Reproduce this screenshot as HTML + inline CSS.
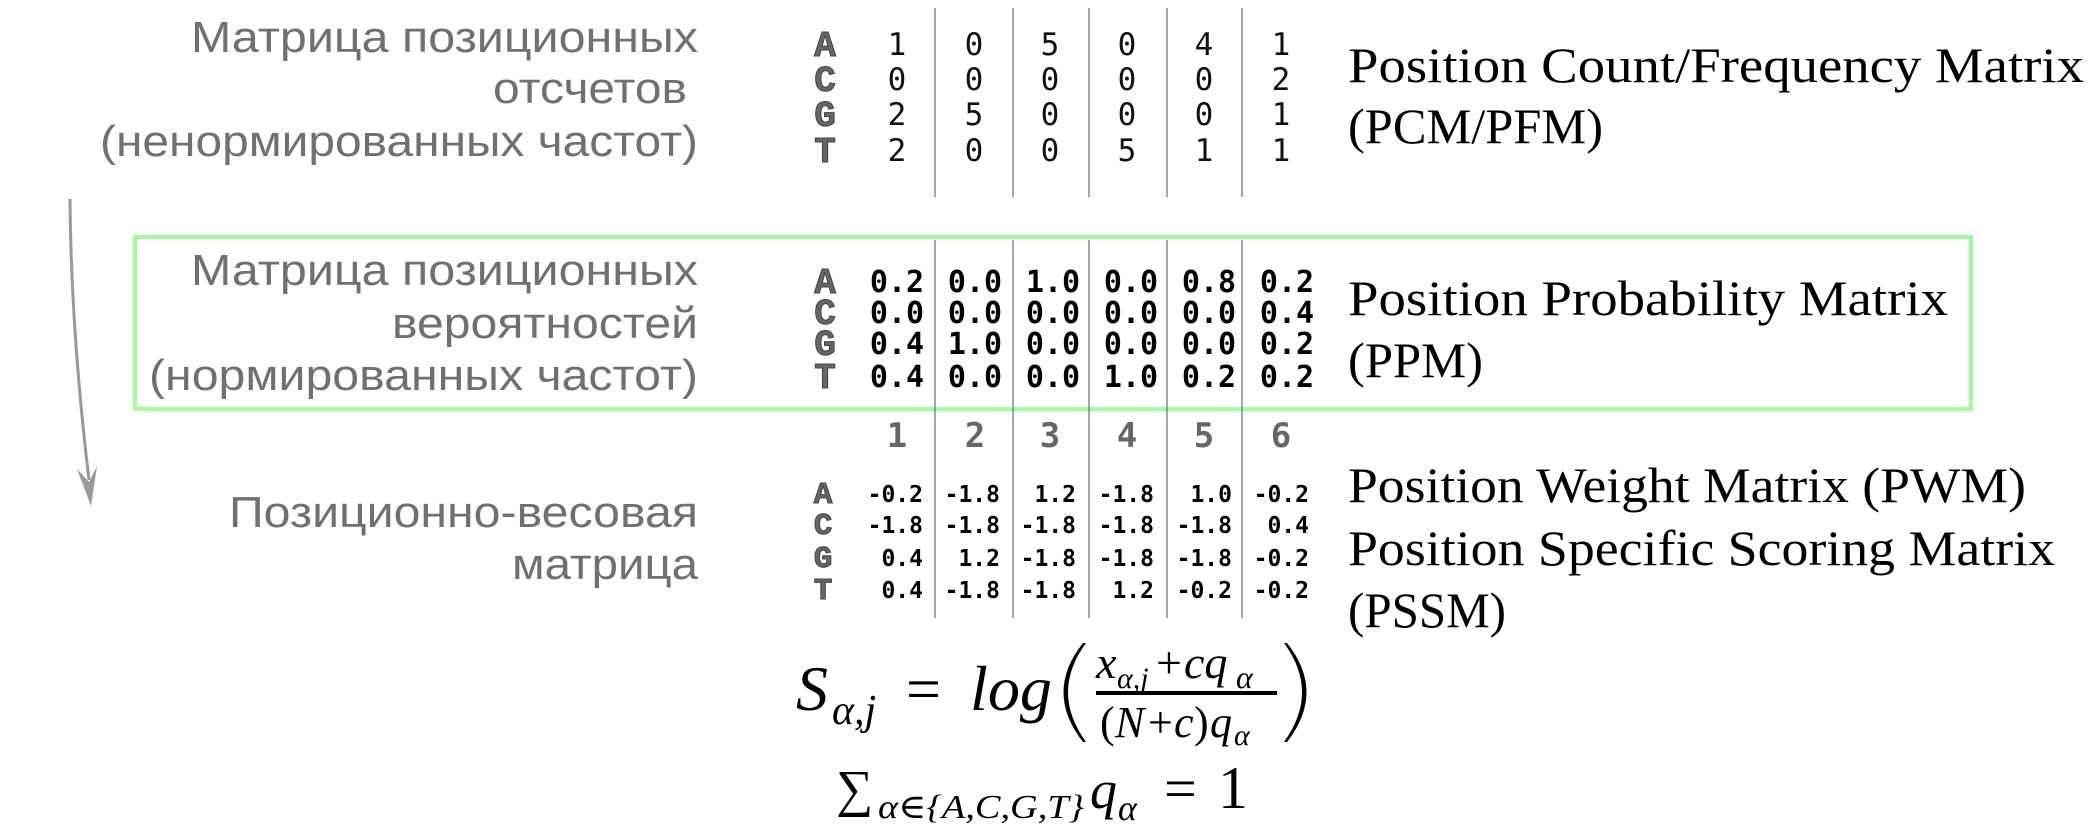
<!DOCTYPE html>
<html><head><meta charset="utf-8"><style>
html,body{margin:0;padding:0;background:#fff;width:2100px;height:840px;overflow:hidden}
svg{display:block}
.lab{font-family:"Liberation Sans","DejaVu Sans",sans-serif;font-size:44px;fill:#707070}
.rt{font-family:"Liberation Serif","DejaVu Serif",serif;font-size:50px;fill:#000}
.nt{font-family:"Liberation Mono","DejaVu Sans Mono",monospace;font-weight:bold;fill:#666;stroke:#444;stroke-width:1}
.pcm{font-family:"DejaVu Sans Mono","Liberation Mono",monospace;font-size:31px;fill:#111}
.ppm{font-family:"DejaVu Sans Mono","Liberation Mono",monospace;font-size:30px;font-weight:bold;fill:#000}
.pwm{font-family:"DejaVu Sans Mono","Liberation Mono",monospace;font-size:23px;font-weight:bold;fill:#000}
.num{font-family:"DejaVu Sans Mono","Liberation Mono",monospace;font-size:34px;font-weight:bold;fill:#666}
.m{font-family:"Liberation Serif","DejaVu Serif",serif;font-style:italic;fill:#000}
.mr{font-family:"Liberation Serif","DejaVu Serif",serif;fill:#000}
</style></head><body>
<svg width="2100" height="840" viewBox="0 0 2100 840" xmlns="http://www.w3.org/2000/svg">
<g class="lab" text-anchor="end">
<text x="698" y="52" textLength="507" lengthAdjust="spacingAndGlyphs">Матрица позиционных</text>
<text x="687" y="103" textLength="194" lengthAdjust="spacingAndGlyphs">отсчетов</text>
<text x="698" y="156" textLength="598" lengthAdjust="spacingAndGlyphs">(ненормированных частот)</text>
<text x="698" y="285" textLength="507" lengthAdjust="spacingAndGlyphs">Матрица позиционных</text>
<text x="698" y="338" textLength="306" lengthAdjust="spacingAndGlyphs">вероятностей</text>
<text x="698" y="390" textLength="549" lengthAdjust="spacingAndGlyphs">(нормированных частот)</text>
<text x="698" y="527" textLength="469" lengthAdjust="spacingAndGlyphs">Позиционно-весовая</text>
<text x="698" y="579" textLength="186" lengthAdjust="spacingAndGlyphs">матрица</text>
</g>
<path d="M70 199 Q71 330 89 480" fill="none" stroke="#999" stroke-width="3"/>
<path d="M77 469 L91 506 L97 466 L89 482 Z" fill="#999"/>
<rect x="135" y="237" width="1836" height="172" fill="none" stroke="#a2fb9c" stroke-width="4"/>
<g stroke="#888" stroke-width="1.5">
<line x1="935" y1="8" x2="935" y2="197"/><line x1="1013" y1="8" x2="1013" y2="197"/><line x1="1089" y1="8" x2="1089" y2="197"/><line x1="1167" y1="8" x2="1167" y2="197"/><line x1="1242" y1="8" x2="1242" y2="197"/>
<line x1="935" y1="240" x2="935" y2="618"/><line x1="1013" y1="240" x2="1013" y2="618"/><line x1="1089" y1="240" x2="1089" y2="618"/><line x1="1167" y1="240" x2="1167" y2="618"/><line x1="1242" y1="240" x2="1242" y2="618"/>
</g>
<g class="nt" text-anchor="middle" font-size="36">
<text x="825" y="56">A</text><text x="825" y="91">C</text><text x="825" y="126">G</text><text x="825" y="162">T</text>
<text x="825" y="293">A</text><text x="825" y="324">C</text><text x="825" y="355">G</text><text x="825" y="388">T</text>
</g>
<g class="nt" text-anchor="middle" font-size="31">
<text x="823" y="503">A</text><text x="823" y="534">C</text><text x="823" y="567">G</text><text x="823" y="599">T</text>
</g>
<g class="pcm" text-anchor="middle">
<text x="897" y="55">1</text><text x="974" y="55">0</text><text x="1050" y="55">5</text><text x="1127" y="55">0</text><text x="1204" y="55">4</text><text x="1281" y="55">1</text>
<text x="897" y="90">0</text><text x="974" y="90">0</text><text x="1050" y="90">0</text><text x="1127" y="90">0</text><text x="1204" y="90">0</text><text x="1281" y="90">2</text>
<text x="897" y="125">2</text><text x="974" y="125">5</text><text x="1050" y="125">0</text><text x="1127" y="125">0</text><text x="1204" y="125">0</text><text x="1281" y="125">1</text>
<text x="897" y="161">2</text><text x="974" y="161">0</text><text x="1050" y="161">0</text><text x="1127" y="161">5</text><text x="1204" y="161">1</text><text x="1281" y="161">1</text>
</g>
<g class="ppm" text-anchor="middle">
<text x="897" y="292">0.2</text><text x="975" y="292">0.0</text><text x="1053" y="292">1.0</text><text x="1131" y="292">0.0</text><text x="1209" y="292">0.8</text><text x="1287" y="292">0.2</text>
<text x="897" y="323">0.0</text><text x="975" y="323">0.0</text><text x="1053" y="323">0.0</text><text x="1131" y="323">0.0</text><text x="1209" y="323">0.0</text><text x="1287" y="323">0.4</text>
<text x="897" y="354">0.4</text><text x="975" y="354">1.0</text><text x="1053" y="354">0.0</text><text x="1131" y="354">0.0</text><text x="1209" y="354">0.0</text><text x="1287" y="354">0.2</text>
<text x="897" y="387">0.4</text><text x="975" y="387">0.0</text><text x="1053" y="387">0.0</text><text x="1131" y="387">1.0</text><text x="1209" y="387">0.2</text><text x="1287" y="387">0.2</text>
</g>
<g class="num" text-anchor="middle">
<text x="897" y="447">1</text><text x="975" y="447">2</text><text x="1050" y="447">3</text><text x="1127" y="447">4</text><text x="1204" y="447">5</text><text x="1281" y="447">6</text>
</g>
<g class="pwm" text-anchor="end">
<text x="923" y="502">-0.2</text><text x="1000" y="502">-1.8</text><text x="1076" y="502">1.2</text><text x="1154" y="502">-1.8</text><text x="1232" y="502">1.0</text><text x="1309" y="502">-0.2</text>
<text x="923" y="533">-1.8</text><text x="1000" y="533">-1.8</text><text x="1076" y="533">-1.8</text><text x="1154" y="533">-1.8</text><text x="1232" y="533">-1.8</text><text x="1309" y="533">0.4</text>
<text x="923" y="566">0.4</text><text x="1000" y="566">1.2</text><text x="1076" y="566">-1.8</text><text x="1154" y="566">-1.8</text><text x="1232" y="566">-1.8</text><text x="1309" y="566">-0.2</text>
<text x="923" y="598">0.4</text><text x="1000" y="598">-1.8</text><text x="1076" y="598">-1.8</text><text x="1154" y="598">1.2</text><text x="1232" y="598">-0.2</text><text x="1309" y="598">-0.2</text>
</g>
<g class="rt">
<text x="1348" y="82" textLength="736" lengthAdjust="spacingAndGlyphs">Position Count/Frequency Matrix</text>
<text x="1348" y="143" textLength="255" lengthAdjust="spacingAndGlyphs">(PCM/PFM)</text>
<text x="1348" y="315" textLength="600" lengthAdjust="spacingAndGlyphs">Position Probability Matrix</text>
<text x="1348" y="377" textLength="135" lengthAdjust="spacingAndGlyphs">(PPM)</text>
<text x="1348" y="502" textLength="678" lengthAdjust="spacingAndGlyphs">Position Weight Matrix (PWM)</text>
<text x="1348" y="565" textLength="707" lengthAdjust="spacingAndGlyphs">Position Specific Scoring Matrix</text>
<text x="1348" y="627" textLength="158" lengthAdjust="spacingAndGlyphs">(PSSM)</text>
</g>
<!-- formula 1 -->
<text class="m" x="796" y="710" font-size="64">S</text>
<text class="m" x="832" y="724" font-size="42">α,j</text>
<text class="mr" x="906" y="710" font-size="62">=</text>
<text class="m" x="970" y="710" font-size="64" textLength="82" lengthAdjust="spacingAndGlyphs">log</text>
<path d="M1086 643 Q1050 692 1086 742 L1083 742 Q1044 692 1083 643 Z" fill="#000"/>
<text class="m" x="1096" y="678" font-size="46">x</text>
<text class="m" x="1117" y="688" font-size="30">α,j</text>
<text class="mr" x="1156" y="678" font-size="46">+</text>
<text class="m" x="1184" y="678" font-size="46">cq</text>
<text class="m" x="1236" y="688" font-size="32">α</text>
<rect x="1096" y="691" width="181" height="4" fill="#000"/>
<text class="mr" x="1100" y="737" font-size="44">(</text>
<text class="m" x="1115" y="737" font-size="44">N</text>
<text class="mr" x="1148" y="737" font-size="44">+</text>
<text class="m" x="1174" y="737" font-size="44">c</text>
<text class="mr" x="1194" y="737" font-size="44">)</text>
<text class="m" x="1210" y="737" font-size="44">q</text>
<text class="m" x="1234" y="745" font-size="30">α</text>
<path d="M1284 643 Q1320 692 1284 742 L1287 742 Q1326 692 1287 643 Z" fill="#000"/>
<!-- formula 2 -->
<text class="mr" x="836" y="806" font-size="52">∑</text>
<text class="m" x="878" y="818" font-size="34" textLength="206" lengthAdjust="spacingAndGlyphs">α∈{A,C,G,T}</text>
<text class="m" x="1090" y="808" font-size="54">q</text>
<text class="m" x="1118" y="820" font-size="36">α</text>
<text class="mr" x="1164" y="808" font-size="58">=</text>
<text class="mr" x="1218" y="808" font-size="60">1</text>
</svg>
</body></html>
